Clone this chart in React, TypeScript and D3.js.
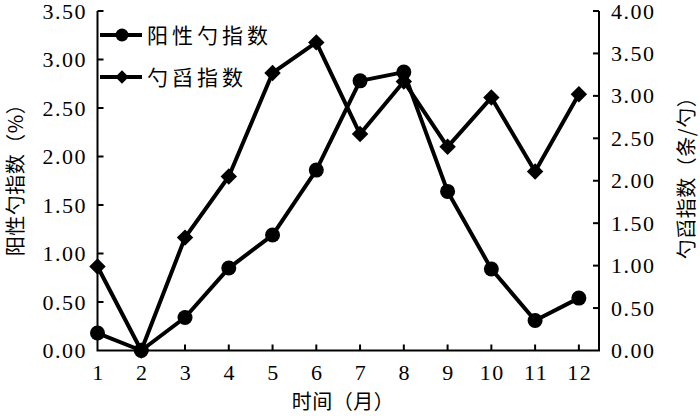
import React from 'react';
import * as d3 from 'd3';

const months = [1, 2, 3, 4, 5, 6, 7, 8, 9, 10, 11, 12];
// 阳性勺指数 (%), left axis
const positiveIndex = [0.18, 0.0, 0.34, 0.85, 1.19, 1.86, 2.78, 2.87, 1.64, 0.84, 0.31, 0.54];
// 勺舀指数 (条/勺), right axis
const dipIndex = [0.99, 0.0, 1.33, 2.05, 3.27, 3.63, 2.55, 3.17, 2.4, 2.98, 2.11, 3.02];

const leftTicks = [0, 0.5, 1, 1.5, 2, 2.5, 3, 3.5];
const rightTicks = [0, 0.5, 1, 1.5, 2, 2.5, 3, 3.5, 4];

const W = 700;
const H = 416;
const plot = { left: 97.5, right: 599, top: 11, bottom: 350.5 };

const numFont = "'Liberation Serif', 'DejaVu Serif', serif";
const cjkFont = "'Noto Sans CJK SC', 'Liberation Serif', serif";

export default function App() {
  const x = d3.scaleLinear().domain([1, 12.46]).range([plot.left, plot.right]);
  const yL = d3.scaleLinear().domain([0, 3.5]).range([plot.bottom, plot.top]);
  const yR = d3.scaleLinear().domain([0, 4]).range([plot.bottom, plot.top]);

  const lineL = d3.line<number>().x((_, i) => x(months[i])).y(d => yL(d));
  const lineR = d3.line<number>().x((_, i) => x(months[i])).y(d => yR(d));

  const diamond = d3.symbol().type(d3.symbolSquare).size(135)();
  const smallDiamond = d3.symbol().type(d3.symbolSquare).size(90)();

  const legend = [
    { label: '阳性勺指数', marker: 'circle', y: 35 },
    { label: '勺舀指数', marker: 'diamond', y: 77 },
  ];

  const numStyle = { fontFamily: numFont, fontSize: 22, letterSpacing: 1.5 };
  const cjkStyle = { fontFamily: cjkFont, fontSize: 20, letterSpacing: 0.5 };

  return (
    <svg width={W} height={H} style={{ position: 'absolute', left: 0, top: 0, background: '#fff' }}>
      {/* axes */}
      <g stroke="#000" strokeWidth={2} fill="none">
        <path d={`M${plot.left},${plot.top}V${plot.bottom}H${plot.right}V${plot.top}`} />
        {leftTicks.slice(1).map(t => (
          <line key={'l' + t} x1={plot.left} x2={plot.left + 6} y1={yL(t)} y2={yL(t)} />
        ))}
        {rightTicks.slice(1).map(t => (
          <line key={'r' + t} x1={plot.right} x2={plot.right - 6} y1={yR(t)} y2={yR(t)} />
        ))}
        {months.slice(1).map(m => (
          <line key={'x' + m} x1={x(m)} x2={x(m)} y1={plot.bottom} y2={plot.bottom - 6} />
        ))}
      </g>

      {/* tick labels */}
      <g fill="#000" style={numStyle}>
        {leftTicks.map(t => (
          <text key={'lt' + t} x={87} y={yL(t) + 7.5} textAnchor="end">{t.toFixed(2)}</text>
        ))}
        {rightTicks.map(t => (
          <text key={'rt' + t} x={611} y={yR(t) + 7.5} textAnchor="start">{t.toFixed(2)}</text>
        ))}
        {months.map(m => (
          <text key={'xt' + m} x={x(m) + 1} y={380} textAnchor="middle">{m}</text>
        ))}
      </g>

      {/* axis titles */}
      <g fill="#000" style={cjkStyle}>
        <text transform="translate(23,175) rotate(-90)" textAnchor="middle">阳性勺指数（%）</text>
        <text transform="translate(694,173) rotate(-90)" textAnchor="middle">勺舀指数（条/勺）</text>
        <text x={343} y={409} textAnchor="middle">时间（月）</text>
      </g>

      {/* series */}
      <path d={lineR(dipIndex) || ''} fill="none" stroke="#000" strokeWidth={4} strokeLinejoin="round" />
      {dipIndex.map((v, i) => (
        <path key={'d' + i} d={diamond || ''} transform={`translate(${x(months[i])},${yR(v)}) rotate(45)`} fill="#000" />
      ))}
      <path d={lineL(positiveIndex) || ''} fill="none" stroke="#000" strokeWidth={4} strokeLinejoin="round" />
      {positiveIndex.map((v, i) => (
        <circle key={'c' + i} cx={x(months[i])} cy={yL(v)} r={7.5} fill="#000" />
      ))}

      {/* legend */}
      {legend.map(l => (
        <g key={l.label}>
          <line x1={100} x2={142} y1={l.y} y2={l.y} stroke="#000" strokeWidth={4} />
          {l.marker === 'circle' ? (
            <circle cx={122} cy={l.y} r={6.5} fill="#000" />
          ) : (
            <path d={smallDiamond || ''} transform={`translate(122,${l.y}) rotate(45)`} fill="#000" />
          )}
          <text x={147} y={l.y + 8} fill="#000" style={{ fontFamily: cjkFont, fontSize: 21, letterSpacing: 4 }}>{l.label}</text>
        </g>
      ))}
    </svg>
  );
}
